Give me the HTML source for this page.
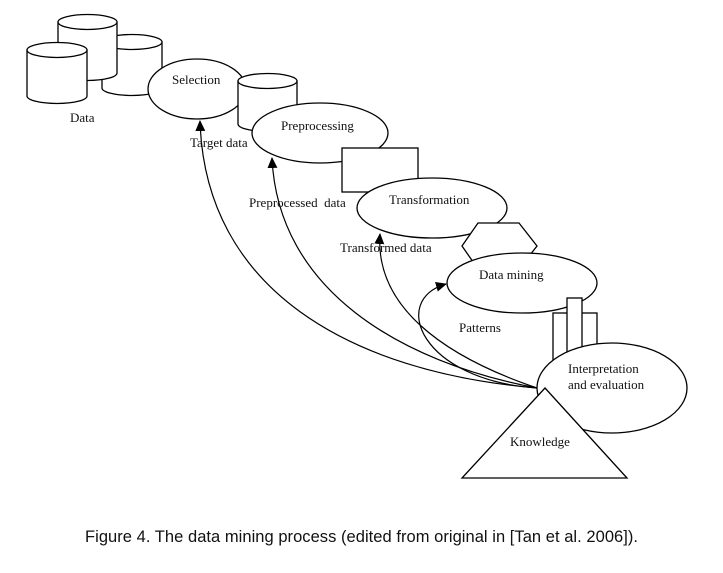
<!DOCTYPE html>
<html><head><style>
html,body{margin:0;padding:0;background:#fff;}
svg{display:block;}
text{font-family:"Liberation Serif",serif;font-size:13px;fill:#111;}
</style></head><body>
<svg width="723" height="573" viewBox="0 0 723 573" xmlns="http://www.w3.org/2000/svg">
<defs><marker id="a" markerWidth="11" markerHeight="10" refX="10" refY="5" orient="auto" markerUnits="userSpaceOnUse" viewBox="0 0 11 10"><path d="M0,0 L11,5 L0,10 Z" fill="#000"/></marker></defs>
<g fill="#fff" stroke="#000" stroke-width="1.3">
<path d="M102,42 L102,88 A30,7.5 0 0 0 162,88 L162,42 Z"/><ellipse cx="132" cy="42" rx="30" ry="7.5"/>
<path d="M58,22 L58,73 A29.5,7.5 0 0 0 117,73 L117,22 Z"/><ellipse cx="87.5" cy="22" rx="29.5" ry="7.5"/>
<path d="M27,50 L27,96 A30,7.5 0 0 0 87,96 L87,50 Z"/><ellipse cx="57" cy="50" rx="30" ry="7.5"/>
<ellipse cx="197" cy="89" rx="49" ry="30"/>
<path d="M238,81 L238,124 A29.5,7.5 0 0 0 297,124 L297,81 Z"/><ellipse cx="267.5" cy="81" rx="29.5" ry="7.5"/>
<ellipse cx="320" cy="133" rx="68" ry="30"/>
<rect x="342" y="148" width="76" height="44"/>
<ellipse cx="432" cy="208" rx="75" ry="30"/>
<polygon points="478,223 519,223 537,246 519,269 478,269 462,246"/>
<ellipse cx="522" cy="283" rx="75" ry="30"/>
<rect x="553" y="313" width="44" height="50"/>
<rect x="567" y="298" width="15" height="65"/>
<ellipse cx="612" cy="388" rx="75" ry="45"/>
<polygon points="545,388 627,478 462,478"/>
</g>
<g fill="none" stroke="#000" stroke-width="1.2">
<path d="M537,388 C350,372 205,290 200,121" marker-end="url(#a)"/>
<path d="M537,388 C400,362 278,290 272,158" marker-end="url(#a)"/>
<path d="M537,388 C440,355 375,305 380,234" marker-end="url(#a)"/>
<path d="M537,388 C420,380 390,300 446,284" marker-end="url(#a)"/>
</g>
<text x="172" y="84">Selection</text>
<text x="70" y="122">Data</text>
<text x="190" y="147">Target data</text>
<text x="281" y="130">Preprocessing</text>
<text x="249" y="207">Preprocessed&#160; data</text>
<text x="389" y="204">Transformation</text>
<text x="340" y="252">Transformed data</text>
<text x="479" y="279">Data mining</text>
<text x="459" y="332">Patterns</text>
<text x="568" y="373">Interpretation</text>
<text x="568" y="389">and evaluation</text>
<text x="510" y="446">Knowledge</text>
<text x="85" y="542" textLength="553" style="font-family:'Liberation Sans',sans-serif;font-size:16.5px;">Figure 4. The data mining process (edited from original in [Tan et al. 2006]).</text>
</svg>
</body></html>
